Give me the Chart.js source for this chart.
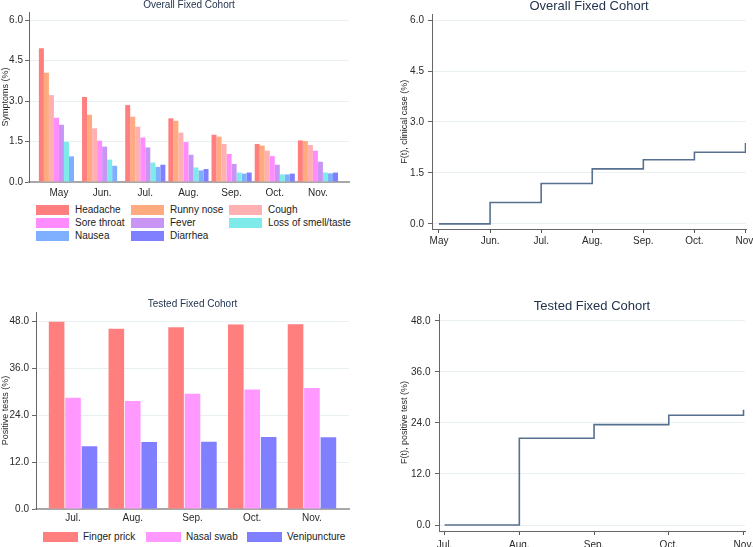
<!DOCTYPE html>
<html>
<head>
<meta charset="utf-8">
<script src="https://cdn.jsdelivr.net/npm/chart.js@4.4.1/dist/chart.umd.min.js"></script>
<style>
  body { margin: 0; width: 753px; height: 547px; background: #fff; position: relative; overflow: hidden; font-family: 'Liberation Sans', Arial, sans-serif; }
  canvas { position: absolute; }
  .leg { position: absolute; font-size: 10px; line-height: 12px; color: #222; white-space: nowrap; }
  .leg i { position: absolute; display: block; height: 10px; }
</style>
</head>
<body>
<canvas id="symptomsChart" width="380" height="202" style="left:0;top:-1px"></canvas>
<canvas id="clinicalChart" width="373" height="256" style="left:380px;top:-1px"></canvas>
<canvas id="testsChart" width="380" height="234" style="left:0;top:296px"></canvas>
<canvas id="positiveChart" width="373" height="251" style="left:380px;top:296px"></canvas>
<div id="symptomsLegend"></div>
<div id="testsLegend"></div>
<script>
const symptomMonths = ['May', 'Jun.', 'Jul.', 'Aug.', 'Sep.', 'Oct.', 'Nov.'];
const symptomNames = ['Headache', 'Runny nose', 'Cough', 'Sore throat', 'Fever', 'Loss of smell/taste', 'Nausea', 'Diarrhea'];
const headache = [4.96, 3.15, 2.85, 2.36, 1.75, 1.41, 1.54];
const runnyNose = [4.05, 2.49, 2.42, 2.27, 1.68, 1.35, 1.52];
const cough = [3.22, 1.99, 2.05, 1.83, 1.41, 1.16, 1.37];
const soreThroat = [2.38, 1.53, 1.65, 1.48, 1.04, 0.96, 1.16];
const fever = [2.12, 1.31, 1.28, 1.01, 0.67, 0.64, 0.75];
const smellTaste = [1.49, 0.83, 0.72, 0.54, 0.35, 0.28, 0.35];
const nausea = [0.95, 0.60, 0.56, 0.43, 0.31, 0.28, 0.32];
const diarrhea = [null, null, 0.64, 0.48, 0.35, 0.31, 0.35];
const symptomColors = ['#ff7f7f', '#ffab7f', '#ffb0b3', '#ff8cff', '#c995f5', '#7feaea', '#7fb0ff', '#7f7fff'];

const testMonths = ['Jul.', 'Aug.', 'Sep.', 'Oct.', 'Nov.'];
const testNames = ['Finger prick', 'Nasal swab', 'Venipuncture'];
const fingerPrick = [47.8, 46.0, 46.4, 47.1, 47.2];
const nasalSwab = [28.4, 27.6, 29.4, 30.5, 30.9];
const venipuncture = [16.0, 17.1, 17.2, 18.4, 18.3];
const testColors = ['#ff7f7f', '#ff99ff', '#7f7fff'];

// cumulative incidence, one value per month tick
const clinicalCase = [0, 0.63, 1.19, 1.62, 1.89, 2.11, 2.38];
const positiveTest = [0, 20.4, 23.6, 25.8, 27.1];

const FONT = "'Liberation Sans', Arial, sans-serif";
const TITLE_COLOR = '#23344f';
const TEXT_COLOR = '#2a2a2a';
const GRID_COLOR = '#e9f0f2';
const STEP_COLOR = '#58708f';

function toPoints(values) {
  return values.map((v, i) => ({ x: i, y: v }));
}

function chartOptions(c) {
  return {
    responsive: false,
    animation: false,
    devicePixelRatio: 1,
    layout: { padding: c.padding },
    plugins: {
      legend: { display: false },
      tooltip: { enabled: false },
      title: {
        display: true,
        text: c.title,
        fullSize: false,
        color: TITLE_COLOR,
        font: { family: FONT, size: c.titleSize, weight: 'normal' },
        padding: { top: c.titleTop, bottom: c.titleBottom }
      }
    },
    scales: {
      x: {
        type: 'linear',
        offset: false,
        min: c.xMin,
        max: c.xMax,
        afterFit: s => { s.height = c.xHeight; s.paddingLeft = 0; s.paddingRight = 0; },
        border: { color: c.xBorderColor, width: c.xBorderWidth },
        grid: { display: c.xTicks, drawTicks: c.xTicks, drawOnChartArea: false, offset: false, tickLength: 4, tickColor: '#555' },
        ticks: {
          stepSize: 1,
          includeBounds: false,
          autoSkip: false,
          maxRotation: 0,
          padding: c.xTickPad,
          color: TEXT_COLOR,
          font: { family: FONT, size: 10 },
          callback: v => Number.isInteger(v) ? c.xLabels[v] : ''
        }
      },
      y: {
        min: c.yMin,
        max: c.yMax,
        afterFit: s => { s.width = c.yWidth; s.paddingTop = 0; s.paddingBottom = 0; },
        border: { color: '#666', width: 1 },
        grid: { color: GRID_COLOR, tickLength: 4, tickColor: '#666' },
        ticks: {
          stepSize: c.yStep,
          includeBounds: false,
          padding: c.yTickPad,
          color: TEXT_COLOR,
          font: { family: FONT, size: 10 },
          callback: v => v.toFixed(1)
        },
        title: {
          display: true,
          text: c.yTitle,
          color: TEXT_COLOR,
          font: { family: FONT, size: c.yTitleSize },
          padding: { top: c.yTitlePad, bottom: 0 }
        }
      }
    }
  };
}

function renderSymptoms() {
  const series = [headache, runnyNose, cough, soreThroat, fever, smellTaste, nausea, diarrhea];
  new Chart(document.getElementById('symptomsChart'), {
    type: 'bar',
    data: {
      datasets: series.map((values, i) => ({
        label: symptomNames[i],
        data: toPoints(values),
        backgroundColor: symptomColors[i],
        borderWidth: 0,
        categoryPercentage: 0.93,
        barPercentage: 1
      }))
    },
    options: chartOptions({
      title: 'Overall Fixed Cohort', titleSize: 10, titleTop: 0, titleBottom: 1,
      padding: { left: 0, right: 31, top: 0, bottom: 3 },
      xMin: -0.694, xMax: 6.72, xLabels: symptomMonths, xHeight: 16, xTickPad: 5,
      xTicks: false, xBorderColor: '#a8a8a8', xBorderWidth: 2,
      yMin: 0, yMax: 6.3, yStep: 1.5, yWidth: 29, yTickPad: 2,
      yTitle: 'Symptoms (%)', yTitleSize: 9, yTitlePad: 0
    })
  });
}

function renderClinical() {
  new Chart(document.getElementById('clinicalChart'), {
    type: 'line',
    data: {
      datasets: [{
        data: toPoints(clinicalCase),
        stepped: true,
        borderColor: STEP_COLOR,
        borderWidth: 1.6,
        pointRadius: 0,
        fill: false
      }]
    },
    options: chartOptions({
      title: 'Overall Fixed Cohort', titleSize: 13, titleTop: 0, titleBottom: 0,
      padding: { left: 0, right: 7, top: 0, bottom: 6 },
      xMin: -0.137, xMax: 6.01, xLabels: symptomMonths, xHeight: 20, xTickPad: 2,
      xTicks: true, xBorderColor: '#666', xBorderWidth: 1,
      yMin: -0.15, yMax: 6.16, yStep: 1.5, yWidth: 52, yTickPad: 4,
      yTitle: 'F(t), clinical case (%)', yTitleSize: 9, yTitlePad: 19.6
    })
  });
}

function renderTests() {
  const series = [fingerPrick, nasalSwab, venipuncture];
  new Chart(document.getElementById('testsChart'), {
    type: 'bar',
    data: {
      datasets: series.map((values, i) => ({
        label: testNames[i],
        data: toPoints(values),
        backgroundColor: testColors[i],
        borderWidth: 0,
        categoryPercentage: 0.825,
        barPercentage: 0.95
      }))
    },
    options: chartOptions({
      title: 'Tested Fixed Cohort', titleSize: 10, titleTop: 2, titleBottom: 2,
      padding: { left: 0, right: 31, top: 0, bottom: 5 },
      xMin: -0.62, xMax: 4.62, xLabels: testMonths, xHeight: 16, xTickPad: 3,
      xTicks: false, xBorderColor: '#a8a8a8', xBorderWidth: 2,
      yMin: 0, yMax: 50.3, yStep: 12, yWidth: 36, yTickPad: 3,
      yTitle: 'Positive tests (%)', yTitleSize: 9, yTitlePad: 0
    })
  });
}

function renderPositive() {
  new Chart(document.getElementById('positiveChart'), {
    type: 'line',
    data: {
      datasets: [{
        data: toPoints(positiveTest),
        stepped: true,
        borderColor: STEP_COLOR,
        borderWidth: 1.6,
        pointRadius: 0,
        fill: false
      }]
    },
    options: chartOptions({
      title: 'Tested Fixed Cohort', titleSize: 13, titleTop: 2.2, titleBottom: 0.2,
      padding: { left: 0, right: 8, top: 0, bottom: 0 },
      xMin: -0.075, xMax: 4.02, xLabels: testMonths, xHeight: 16, xTickPad: 4,
      xTicks: true, xBorderColor: '#666', xBorderWidth: 1,
      yMin: -1.4, yMax: 49.6, yStep: 12, yWidth: 59, yTickPad: 4.5,
      yTitle: 'F(t), positive test (%)', yTitleSize: 9, yTitlePad: 19.6
    })
  });
}

function renderLegend(id, names, colors, cols, rowY, boxW, textGap) {
  const holder = document.getElementById(id);
  names.forEach((name, i) => {
    const item = document.createElement('div');
    item.className = 'leg';
    item.style.left = cols[i % cols.length] + 'px';
    item.style.top = (rowY[Math.floor(i / cols.length)] - 6) + 'px';
    item.style.paddingLeft = textGap + 'px';
    const box = document.createElement('i');
    box.style.left = '0';
    box.style.top = '1px';
    box.style.width = boxW + 'px';
    box.style.background = colors[i];
    item.appendChild(box);
    item.appendChild(document.createTextNode(name));
    holder.appendChild(item);
  });
}

renderSymptoms();
renderClinical();
renderTests();
renderPositive();
renderLegend('symptomsLegend', symptomNames, symptomColors, [36, 131, 229], [210, 223, 236], 33, 39);
renderLegend('testsLegend', testNames, testColors, [43, 146, 247], [537], 35, 40);
</script>
</body>
</html>
